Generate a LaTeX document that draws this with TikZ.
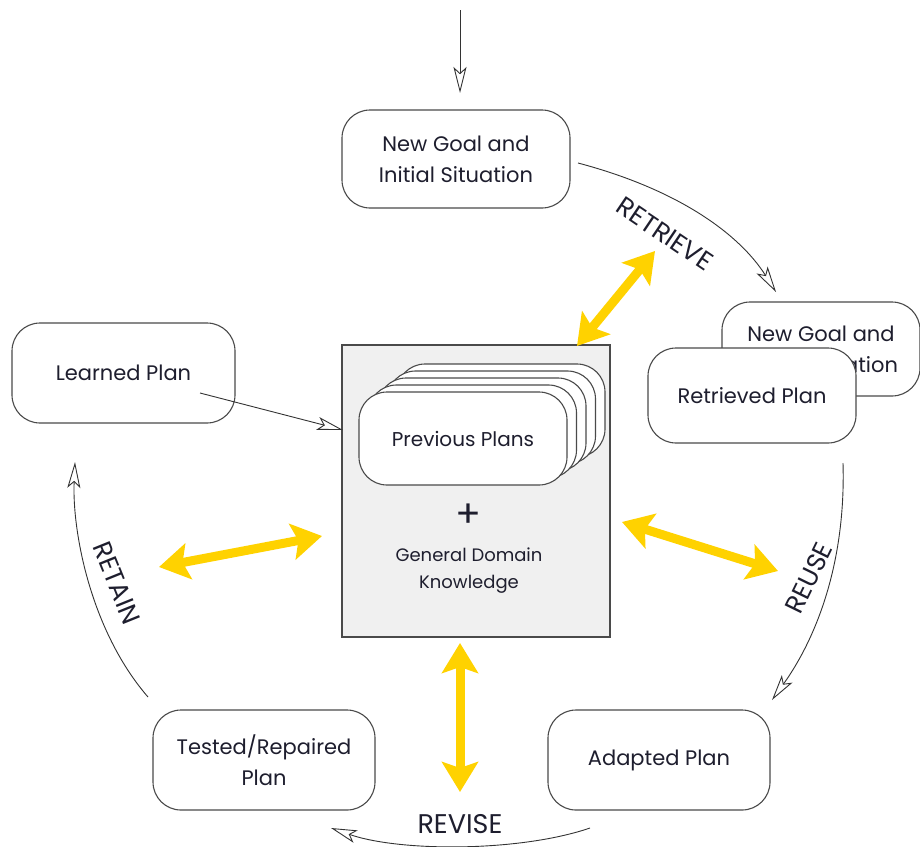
\documentclass[tikz,border=0pt]{standalone}
\usepackage{fontspec}
\setmainfont{Poppins}
\usetikzlibrary{arrows.meta}
\definecolor{ink}{HTML}{1E1E2E}
\definecolor{edge}{HTML}{4A4A4A}
\definecolor{gold}{RGB}{255,210,0}
\definecolor{panel}{HTML}{F0F0F0}
\tikzset{
  planbox/.style={draw=edge, line width=1.1pt, fill=white, rounded corners=28pt, align=center, text=ink, font=\fontsize{21}{31}\selectfont, inner sep=0pt},
  flow/.style={draw=black!80, line width=0.9pt, -{Stealth[open, length=26pt, width=13pt, inset=6pt]}},
  golden/.style={draw=gold, line width=9pt, {Stealth[length=30pt, width=36pt, inset=6pt]}-{Stealth[length=30pt, width=36pt, inset=6pt]}},
  phase/.style={text=ink, font=\fontsize{26}{28}\selectfont, inner sep=0pt}
}
\begin{document}
\begin{tikzpicture}[x=1pt,y=-1pt]
\useasboundingbox (0,0) rectangle (920,846);
% central knowledge panel
\node[draw=edge, line width=1.2pt, fill=panel, minimum width=268pt, minimum height=292pt, inner sep=0pt] (gb) at (476,491) {};
% stack of previous plans
\foreach \k in {4,3,2,1} {
  \node[planbox, minimum width=208pt, minimum height=93pt] (pp\k) at ({463+9.5*\k},{438.5-7*\k}) {};
}
\node[planbox, minimum width=208pt, minimum height=93pt, font=\fontsize{20}{30}\selectfont] (pp) at (463,438.5) {Previous Plans};
\node[text=ink, font=\fontsize{38}{38}\selectfont, inner sep=0pt] (plus) at (468,516) {+};
\node[text=ink, align=center, font=\fontsize{18}{27}\selectfont, inner sep=0pt] (gdk) at (469,571) {General Domain\\Knowledge};
% boxes
\node[planbox, minimum width=228pt, minimum height=98pt] (ng) at (456,159) {New Goal and\\Initial Situation};
\node[planbox, minimum width=198pt, minimum height=94pt] (ng2) at (821,349) {New Goal and\\Initial Situation};
\node[planbox, minimum width=208pt, minimum height=95pt] (rp) at (752,395.5) {Retrieved Plan};
\node[planbox, minimum width=223pt, minimum height=100pt] (lp) at (123.5,373) {Learned Plan};
\node[planbox, minimum width=222pt, minimum height=100pt] (ap) at (659,760) {Adapted Plan};
\node[planbox, minimum width=222pt, minimum height=100pt] (tr) at (264,760) {Tested/Repaired\\Plan};
% connector ends
\coordinate (top) at (460,10);
\coordinate (topend) at (460,93);
\coordinate (ret1) at (578,163);
\coordinate (ret2) at (776,292);
\coordinate (reu1) at (843,463);
\coordinate (reu2) at (772,700);
\coordinate (rev1) at (590,828);
\coordinate (rev2) at (331,828);
\coordinate (rtn1) at (148,697);
\coordinate (rtn2) at (75,462);
\coordinate (lp1) at (200,393);
\coordinate (lp2) at (343,430);
% flow arrows
\draw[flow] (top) -- (topend);
\draw[flow] (ret1) .. controls (680,190) and (740,235) .. (ret2);
\draw[flow] (reu1) .. controls (846,565) and (815,640) .. (reu2);
\draw[flow] (rev1) .. controls (520,852) and (400,852) .. (rev2);
\draw[flow] (rtn1) .. controls (90,630) and (72,530) .. (rtn2);
\draw[flow] (lp1) -- (lp2);
% phase labels
\node[phase, rotate=-34] (lret) at (665,234) {RETRIEVE};
\node[phase, rotate=64] (lreu) at (809,578) {REUSE};
\node[phase, font=\fontsize{27}{28}\selectfont] (lrev) at (460,824) {REVISE};
\node[phase, rotate=-68] (lrtn) at (117,583) {RETAIN};
% knowledge exchange arrows
\coordinate (y1a) at (577,346);
\coordinate (y1b) at (655,251);
\coordinate (y2a) at (159,567);
\coordinate (y2b) at (322,536);
\coordinate (y3a) at (622,522);
\coordinate (y3b) at (778,571);
\coordinate (y4a) at (460,643);
\coordinate (y4b) at (460,792);
\draw[golden] (y1a) -- (y1b);
\draw[golden] (y2a) -- (y2b);
\draw[golden] (y3a) -- (y3b);
\draw[golden] (y4a) -- (y4b);
\end{tikzpicture}
\end{document}
